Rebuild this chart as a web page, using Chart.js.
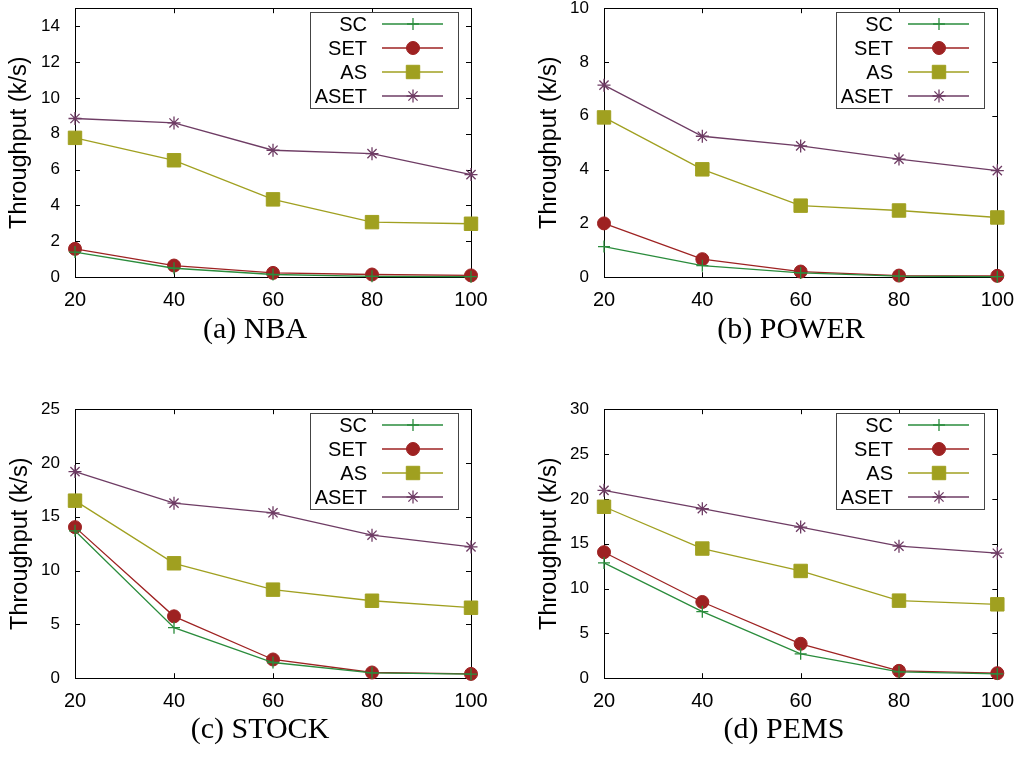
<!DOCTYPE html>
<html>
<head>
<meta charset="utf-8">
<script src="https://cdn.jsdelivr.net/npm/chart.js@4/dist/chart.umd.min.js"></script>
<style>
  body { margin: 0; background: #fff; width: 1025px; height: 776px; position: relative; overflow: hidden; }
  canvas { position: absolute; }
  .cap { position: absolute; font-family: "Liberation Serif", serif; font-size: 30px; color: #000;
         transform: translate(-50%, -50%); white-space: nowrap; }
</style>
</head>
<body>
<canvas id="c0" width="512" height="340" style="left:0;top:0"></canvas>
<canvas id="c1" width="513" height="340" style="left:512px;top:0"></canvas>
<canvas id="c2" width="512" height="340" style="left:0;top:400px"></canvas>
<canvas id="c3" width="513" height="340" style="left:512px;top:400px"></canvas>
<div class="cap" style="left:255px;top:328px">(a) NBA</div>
<div class="cap" style="left:791px;top:328px">(b) POWER</div>
<div class="cap" style="left:260px;top:728px">(c) STOCK</div>
<div class="cap" style="left:784px;top:728px">(d) PEMS</div>
<script>
// x axis: window size
const xValues = [20, 40, 60, 80, 100];
const seriesNames = ['SC', 'SET', 'AS', 'ASET'];

// (a) NBA
const nbaSC   = [1.40, 0.50, 0.15, 0.05, 0.03];
const nbaSET  = [1.58, 0.65, 0.24, 0.15, 0.10];
const nbaAS   = [7.77, 6.52, 4.34, 3.07, 2.98];
const nbaASET = [8.85, 8.60, 7.08, 6.89, 5.72];
const nbaTicks = [0, 2, 4, 6, 8, 10, 12, 14];

// (b) POWER
const powerSC   = [1.14, 0.43, 0.16, 0.04, 0.02];
const powerSET  = [2.00, 0.67, 0.21, 0.06, 0.05];
const powerAS   = [5.94, 4.01, 2.66, 2.48, 2.22];
const powerASET = [7.14, 5.24, 4.88, 4.39, 3.96];
const powerTicks = [0, 2, 4, 6, 8, 10];

// (c) STOCK
const stockSC   = [13.70, 4.70, 1.46, 0.50, 0.37];
const stockSET  = [14.04, 5.75, 1.74, 0.53, 0.40];
const stockAS   = [16.50, 10.68, 8.23, 7.20, 6.55];
const stockASET = [19.20, 16.27, 15.37, 13.29, 12.20];
const stockTicks = [0, 5, 10, 15, 20, 25];

// (d) PEMS
const pemsSC   = [12.86, 7.42, 2.72, 0.71, 0.48];
const pemsSET  = [14.05, 8.50, 3.84, 0.82, 0.56];
const pemsAS   = [19.12, 14.46, 11.96, 8.65, 8.24];
const pemsASET = [20.95, 18.90, 16.85, 14.72, 13.94];
const pemsTicks = [0, 5, 10, 15, 20, 25, 30];

const styles = [
  { color: '#2a8c3c', pointStyle: 'cross', radius: 6,   bw: 1.3 },
  { color: '#9e2222', pointStyle: 'circle', radius: 6.5, bw: 1 },
  { color: '#a0a020', pointStyle: 'rect',  radius: 9.5, bw: 1 },
  { color: '#6e3c64', pointStyle: 'star',  radius: 6.5, bw: 1.3 }
];

const panels = [
  { id: 'c0', series: [nbaSC, nbaSET, nbaAS, nbaASET], ticks: nbaTicks, ymax: 15, plotLeft: 75, plotRight: 471, titleX: 20, pageTop: 8 },
  { id: 'c1', series: [powerSC, powerSET, powerAS, powerASET], ticks: powerTicks, ymax: 10, plotLeft: 92, plotRight: 488, titleX: 38, pageTop: 8 },
  { id: 'c2', series: [stockSC, stockSET, stockAS, stockASET], ticks: stockTicks, ymax: 25, plotLeft: 75, plotRight: 471, titleX: 21, pageTop: 409 },
  { id: 'c3', series: [pemsSC, pemsSET, pemsAS, pemsASET], ticks: pemsTicks, ymax: 30, plotLeft: 92, plotRight: 488, titleX: 38, pageTop: 409 }
];

const PLOT_H = 269;
const TITLE_SIZE = 23.5;

// border box, inward ticks, and the gnuplot-like legend
const framePlugin = {
  id: 'frame',
  beforeDatasetsDraw(chart) {
    const { ctx, chartArea: a, scales: { x, y } } = chart;
    ctx.save();
    ctx.strokeStyle = '#000';
    ctx.lineWidth = 1;
    ctx.strokeRect(Math.round(a.left) + 0.5, Math.round(a.top) + 0.5, Math.round(a.right - a.left), Math.round(a.bottom - a.top));
    ctx.beginPath();
    y.ticks.forEach(t => {
      const py = Math.round(y.getPixelForValue(t.value)) + 0.5;
      ctx.moveTo(a.left, py); ctx.lineTo(a.left + 5, py);
      ctx.moveTo(a.right, py); ctx.lineTo(a.right - 5, py);
    });
    x.ticks.forEach(t => {
      const px = Math.round(x.getPixelForValue(t.value)) + 0.5;
      ctx.moveTo(px, a.bottom); ctx.lineTo(px, a.bottom - 5);
      ctx.moveTo(px, a.top); ctx.lineTo(px, a.top + 5);
    });
    ctx.stroke();
    ctx.restore();
  },
  afterDatasetsDraw(chart) {
    const { ctx, chartArea: a } = chart;
    const w = 148, h = 96;
    const left = Math.round(a.right - 13 - w), top = Math.round(a.top + 4);
    ctx.save();
    ctx.fillStyle = '#fff';
    ctx.fillRect(left, top, w, h);
    ctx.strokeStyle = '#444';
    ctx.lineWidth = 1;
    ctx.strokeRect(left + 0.5, top + 0.5, w, h);
    ctx.font = '20px "Liberation Sans", Arial, sans-serif';
    ctx.textAlign = 'right';
    ctx.textBaseline = 'middle';
    chart.data.datasets.forEach((ds, i) => {
      const cy = top + 12 + i * 24;
      ctx.fillStyle = '#000';
      ctx.fillText(ds.label, left + 57, cy + 1);
      ctx.strokeStyle = ds.borderColor;
      ctx.lineWidth = 1.3;
      ctx.beginPath();
      ctx.moveTo(left + 72, cy); ctx.lineTo(left + 133, cy);
      ctx.stroke();
      ctx.fillStyle = ds.pointBackgroundColor;
      ctx.strokeStyle = ds.pointBorderColor;
      ctx.lineWidth = ds.pointBorderWidth;
      Chart.helpers.drawPoint(ctx, { pointStyle: ds.pointStyle, radius: ds.pointRadius, borderWidth: ds.pointBorderWidth, rotation: 0 }, left + 103, cy);
    });
    ctx.restore();
  }
};

panels.forEach(p => {
  const canvas = document.getElementById(p.id);
  const padLeft = p.titleX - TITLE_SIZE * 1.2 / 2;
  let xHeight = 40;
  const datasets = p.series.map((vals, i) => ({
    label: seriesNames[i],
    data: vals.map((v, k) => ({ x: xValues[k], y: v })),
    borderColor: styles[i].color,
    backgroundColor: styles[i].color,
    pointBackgroundColor: styles[i].color,
    pointBorderColor: styles[i].color,
    pointStyle: styles[i].pointStyle,
    pointRadius: styles[i].radius,
    pointBorderWidth: styles[i].bw,
    borderWidth: 1.3,
    tension: 0,
    clip: false
  }));
  const chart = new Chart(canvas, {
    type: 'line',
    data: { datasets },
    options: {
      responsive: false,
      animation: false,
      events: [],
      layout: { padding: { left: padLeft, top: 0, right: canvas.width - p.plotRight, bottom: 0 } },
      plugins: { legend: { display: false }, tooltip: { enabled: false } },
      scales: {
        x: {
          type: 'linear', min: 20, max: 100,
          afterBuildTicks: s => { s.ticks = xValues.map(v => ({ value: v })); },
          afterFit: s => { s.height = xHeight; },
          grid: { display: false, drawTicks: false },
          border: { display: false },
          ticks: { padding: 11, color: '#000', font: { family: '"Liberation Sans", Arial, sans-serif', size: 20 } }
        },
        y: {
          type: 'linear', min: 0, max: p.ymax,
          afterBuildTicks: s => { s.ticks = p.ticks.map(v => ({ value: v })); },
          afterFit: s => { s.width = p.plotLeft - padLeft; },
          grid: { display: false, drawTicks: false },
          border: { display: false },
          ticks: { padding: 15, color: '#000', font: { family: '"Liberation Sans", Arial, sans-serif', size: 17 } },
          title: { display: true, text: 'Throughput (k/s)', color: '#000', padding: 0,
                   font: { family: '"Liberation Sans", Arial, sans-serif', size: TITLE_SIZE } }
        }
      }
    },
    plugins: [framePlugin]
  });
  // size the x band so the plot box gets the reference height, then place the canvas
  for (let n = 0; n < 4; n++) {
    const a = chart.chartArea;
    const d = (a.bottom - a.top) - PLOT_H;
    if (Math.abs(d) < 0.5) break;
    xHeight += d;
    chart.update();
  }
  canvas.style.top = (p.pageTop - chart.chartArea.top) + 'px';
});
</script>
</body>
</html>
